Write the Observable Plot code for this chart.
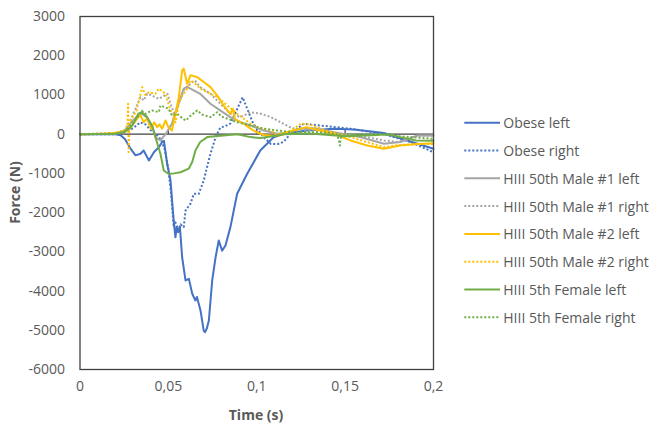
<!DOCTYPE html>
<html><head><meta charset="utf-8">
<script src="https://cdn.jsdelivr.net/npm/d3@7"></script>
<script src="https://cdn.jsdelivr.net/npm/@observablehq/plot@0.6"></script>
<style>
body{margin:0;background:#fff;overflow:hidden;font-family:"Open Sans",sans-serif}
#wrap{position:relative;width:650px;height:423px;overflow:hidden}
#legend{position:absolute;left:0;top:0}
</style></head><body><div id="wrap"></div>
<script>
// [time (s), force (N)]
const obeseLeft = [[0,0],[0.018,0],[0.020,0],[0.023,-30],[0.0255,-130],[0.0286,-370],[0.0314,-540],[0.0342,-500],[0.036,-415],[0.039,-670],[0.0418,-460],[0.0446,-330],[0.0465,-200],[0.0475,-170],[0.0493,-755],[0.0512,-1180],[0.053,-2200],[0.054,-2630],[0.0547,-2370],[0.0555,-2500],[0.0565,-2350],[0.0578,-3140],[0.0597,-3730],[0.0616,-3690],[0.0635,-4070],[0.0653,-4240],[0.0662,-4150],[0.0682,-4500],[0.070,-5010],[0.0707,-5050],[0.0718,-4950],[0.0729,-4750],[0.0748,-3730],[0.0767,-3140],[0.0785,-2710],[0.0804,-2970],[0.0823,-2840],[0.0851,-2370],[0.0889,-1520],[0.0946,-1010],[0.102,-415],[0.1095,-80],[0.115,0],[0.12,40],[0.1285,95],[0.1436,140],[0.155,120],[0.172,30],[0.185,-160],[0.2,-370]];
const obeseRight = [[0,0],[0.02,0],[0.025,50],[0.03,150],[0.034,300],[0.037,250],[0.04,100],[0.043,0],[0.046,-150],[0.048,-400],[0.050,-900],[0.0515,-1500],[0.053,-2370],[0.054,-2250],[0.0559,-2460],[0.057,-2300],[0.0587,-2370],[0.0597,-1950],[0.0625,-1770],[0.0644,-1520],[0.0672,-1520],[0.070,-1180],[0.0738,-500],[0.0767,-80],[0.0785,90],[0.0795,170],[0.082,200],[0.085,270],[0.088,550],[0.092,940],[0.0945,660],[0.098,270],[0.104,-80],[0.108,-250],[0.112,-250],[0.115,-200],[0.119,0],[0.1266,265],[0.136,220],[0.153,140],[0.172,0],[0.187,-200],[0.2,-460]];
const male1Left = [[0,0],[0.02,20],[0.025,80],[0.030,350],[0.033,480],[0.035,520],[0.038,420],[0.0408,220],[0.0427,-80],[0.0455,-160],[0.0484,0],[0.052,265],[0.055,690],[0.0587,1160],[0.0605,1200],[0.0625,1160],[0.068,1030],[0.0738,775],[0.0795,600],[0.085,435],[0.0908,306],[0.0965,220],[0.104,95],[0.1116,10],[0.118,50],[0.1248,140],[0.133,150],[0.1436,50],[0.1585,-75],[0.172,-245],[0.1813,-200],[0.191,-33],[0.2,-33]];
const male1Right = [[0,0],[0.02,20],[0.025,100],[0.028,300],[0.031,600],[0.0342,945],[0.036,860],[0.038,1030],[0.04,1000],[0.0446,900],[0.0495,1030],[0.051,800],[0.0535,500],[0.056,800],[0.059,1150],[0.0625,1285],[0.065,1370],[0.068,1200],[0.0738,1030],[0.0795,775],[0.085,520],[0.0908,435],[0.0965,560],[0.1022,520],[0.108,435],[0.1134,306],[0.12,150],[0.13,100],[0.15,0],[0.165,-100],[0.172,-160],[0.18,-200],[0.191,-40],[0.2,-40]];
const male2Left = [[0,0],[0.015,10],[0.022,50],[0.028,120],[0.030,250],[0.033,435],[0.034,500],[0.036,306],[0.038,400],[0.040,140],[0.042,300],[0.0437,180],[0.045,250],[0.0465,140],[0.0484,350],[0.050,180],[0.052,95],[0.054,520],[0.0559,945],[0.0578,1625],[0.0587,1670],[0.0606,1285],[0.0625,1500],[0.0663,1455],[0.070,1330],[0.0738,1200],[0.0776,990],[0.0813,730],[0.085,520],[0.0865,650],[0.0875,400],[0.0889,350],[0.0927,265],[0.0965,140],[0.100,50],[0.104,-20],[0.11,-40],[0.118,60],[0.128,180],[0.135,100],[0.1436,10],[0.153,-160],[0.1625,-290],[0.172,-370],[0.181,-290],[0.191,-250],[0.2,-230]];
const male2Right = [[0,0],[0.02,30],[0.025,80],[0.0268,200],[0.0272,775],[0.0275,-460],[0.028,300],[0.030,450],[0.032,600],[0.0352,1200],[0.037,1000],[0.039,1070],[0.0427,1030],[0.0446,1160],[0.0484,1030],[0.050,775],[0.052,500],[0.054,300],[0.056,800],[0.058,1000],[0.060,1100],[0.0625,1370],[0.065,1300],[0.068,1160],[0.0776,950],[0.0889,520],[0.0965,265],[0.102,150],[0.108,95],[0.112,-50],[0.118,50],[0.125,265],[0.13,250],[0.139,95],[0.153,-75],[0.172,-330],[0.18,-280],[0.19,-250],[0.2,-250]];
const female5Left = [[0,0],[0.02,10],[0.025,50],[0.028,150],[0.030,250],[0.033,520],[0.035,560],[0.038,435],[0.041,180],[0.0427,-80],[0.0455,-500],[0.0474,-925],[0.050,-1010],[0.053,-1000],[0.0569,-970],[0.0615,-880],[0.0635,-710],[0.0653,-415],[0.068,-200],[0.072,-75],[0.0795,-40],[0.089,0],[0.0965,-75],[0.102,-100],[0.108,-60],[0.115,0],[0.13,20],[0.15,-50],[0.165,-30],[0.175,0],[0.1813,-75],[0.19,-160],[0.2,-170]];
const female5Right = [[0,0],[0.02,10],[0.025,60],[0.03,300],[0.033,450],[0.035,600],[0.037,520],[0.0408,605],[0.0446,560],[0.0455,730],[0.048,690],[0.050,650],[0.052,480],[0.055,520],[0.058,400],[0.060,350],[0.062,450],[0.0663,605],[0.069,500],[0.0738,435],[0.0776,560],[0.08,450],[0.0889,306],[0.0965,220],[0.104,140],[0.1116,95],[0.12,50],[0.13,50],[0.14,40],[0.1455,0],[0.1465,-160],[0.147,-290],[0.1475,-100],[0.15,0],[0.17,0],[0.18,-50],[0.2,-120]];

const seriesNames = ["Obese left","Obese right","HIII 50th Male #1 left","HIII 50th Male #1 right","HIII 50th Male #2 left","HIII 50th Male #2 right","HIII 5th Female left","HIII 5th Female right"];
const seriesData = [obeseLeft, obeseRight, male1Left, male1Right, male2Left, male2Right, female5Left, female5Right];
const seriesColors = ["#4472C4","#4472C4","#A5A5A5","#A5A5A5","#FFC000","#FFC000","#70AD47","#70AD47"];
const seriesDotted = [false,true,false,true,false,true,false,true];
const xTicks = [0,0.05,0.1,0.15,0.2];
const yTicks = [-6000,-5000,-4000,-3000,-2000,-1000,0,1000,2000,3000];
const xTitle = "Time (s)";
const yTitle = "Force (N)";

const lineMarks = seriesData.map((d,i) => Plot.line(d, {
  x: p => p[0], y: p => p[1],
  stroke: seriesColors[i],
  strokeWidth: 2,
  strokeDasharray: seriesDotted[i] ? "2,2" : null,
  strokeLinecap: seriesDotted[i] ? "butt" : "round",
  strokeLinejoin: "round"
}));

const chart = Plot.plot({
  width: 650, height: 423,
  marginLeft: 79.5, marginRight: 217, marginTop: 16, marginBottom: 54,
  style: {fontFamily: "'Open Sans', sans-serif", fontSize: "14px", color: "#595959", background: "#fff"},
  x: {domain: [0, 0.2], ticks: xTicks, tickFormat: d => String(d).replace(".", ","), tickSize: 0, tickPadding: 12, label: null},
  y: {domain: [-6000, 3000], ticks: yTicks, tickFormat: d => String(d), tickSize: 0, tickPadding: 15, label: null},
  marks: [
    Plot.ruleY([0], {stroke: "#404040", strokeWidth: 1.4}),
    Plot.ruleX(xTicks.slice(1, -1), {y1: 0, y2: 120, stroke: "#404040", strokeWidth: 1.2}),
    ...lineMarks,
    Plot.frame({stroke: "#404040", strokeWidth: 1.3})
  ]
});

const svg = d3.select(chart);
svg.append("text").attr("x", 256).attr("y", 414).attr("text-anchor", "middle").attr("dominant-baseline", "central")
  .attr("font-weight", "bold").attr("font-size", 14).attr("fill", "#595959").text(xTitle);
svg.append("text").attr("transform", "translate(14,192.5) rotate(-90)").attr("text-anchor", "middle").attr("dominant-baseline", "central")
  .attr("font-weight", "bold").attr("font-size", 14).attr("fill", "#595959").text(yTitle);

const wrap = document.getElementById("wrap");
wrap.appendChild(chart);

const leg = d3.select(wrap).append("svg").attr("id", "legend").attr("width", 650).attr("height", 423)
  .style("font-family", "'Open Sans', sans-serif");
seriesNames.forEach((name, i) => {
  const y = 122.7 + i * 27.8;
  leg.append("line").attr("x1", 464.3).attr("x2", 500).attr("y1", y).attr("y2", y)
    .attr("stroke", seriesColors[i]).attr("stroke-width", 2)
    .attr("stroke-dasharray", seriesDotted[i] ? "2,2" : null);
  leg.append("text").attr("x", 503.3).attr("y", y).attr("dominant-baseline", "central")
    .attr("font-size", 14).attr("fill", "#595959").text(name);
});
</script></body></html>
